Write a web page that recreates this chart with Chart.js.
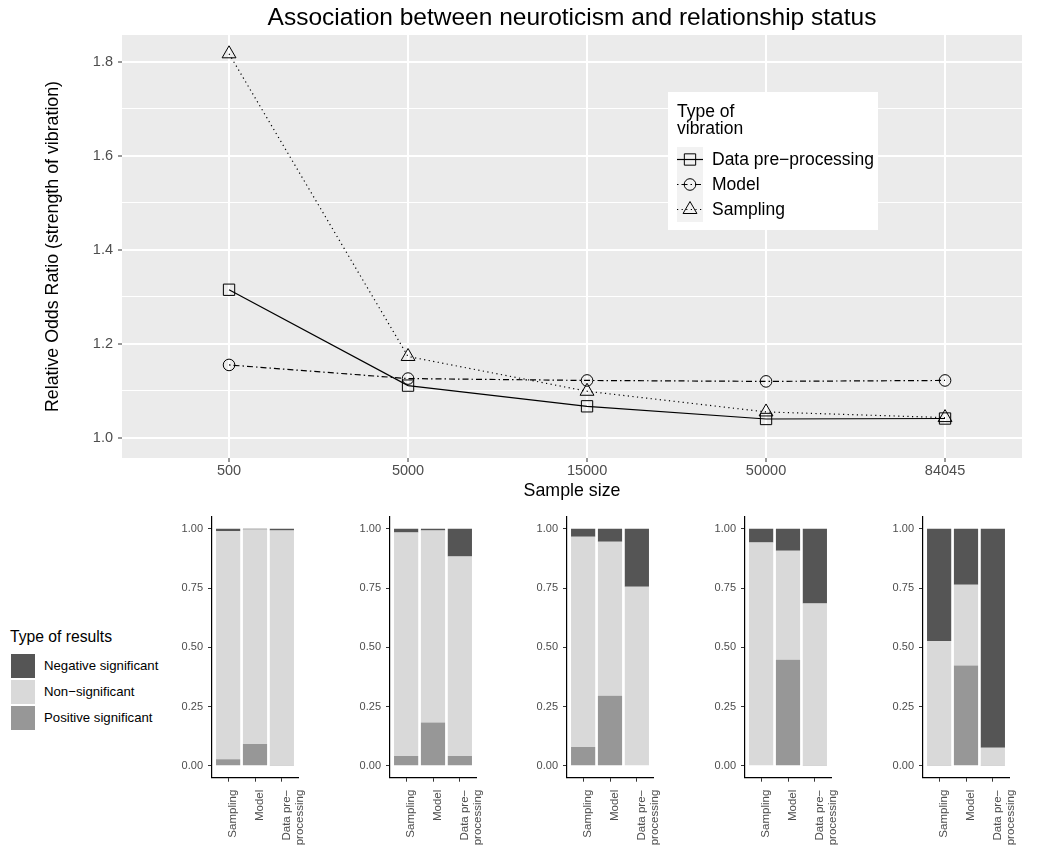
<!DOCTYPE html>
<html>
<head>
<meta charset="utf-8">
<script src="https://cdn.jsdelivr.net/npm/chart.js@4.4.0/dist/chart.umd.min.js"></script>
<style>
  body { margin: 0; background: #fff; font-family: "Liberation Sans", Arial, sans-serif; }
  #wrap { position: relative; width: 1045px; height: 845px; overflow: hidden; }
  canvas { position: absolute; }
  .lg-title { position: absolute; left: 10px; top: 628px; font-size: 15.7px; line-height: 18px; color: #000; white-space: nowrap; }
  .lg-key { position: absolute; left: 11px; width: 24px; height: 24px; }
  .lg-label { position: absolute; left: 44px; font-size: 13.2px; line-height: 24px; height: 24px; color: #000; white-space: nowrap; }
</style>
</head>
<body>
<div id="wrap">
  <canvas id="top-chart" width="1045" height="505" style="left:0;top:0"></canvas>
  <div id="bars"></div>
  <div id="results-legend"></div>
</div>
<script>
// Top panel data
const sampleSizes = ['500', '5000', '15000', '50000', '84045'];
const vibrationTypes = ['Data pre−processing', 'Model', 'Sampling'];
const dataPreprocessingOR = [1.315, 1.111, 1.067, 1.040, 1.041];
const modelOR = [1.155, 1.126, 1.122, 1.120, 1.122];
const samplingOR = [1.817, 1.173, 1.099, 1.055, 1.043];
const orTicks = [1.0, 1.1, 1.2, 1.3, 1.4, 1.5, 1.6, 1.7, 1.8];

// Bottom panels data: one row per sample size, columns = Sampling, Model, Data pre-processing
const barCategories = ['Sampling', 'Model', 'Data pre−processing'];
const resultTypes = ['Negative significant', 'Non−significant', 'Positive significant'];
const positiveShare = [
    [0.028, 0.092, 0.001],
    [0.042, 0.183, 0.042],
    [0.080, 0.296, 0.003],
    [0.000, 0.448, 0.002],
    [0.002, 0.423, 0.002]
];
const nonSigShare = [
    [0.962, 0.905, 0.992],
    [0.943, 0.810, 0.841],
    [0.887, 0.650, 0.753],
    [0.942, 0.460, 0.683],
    [0.525, 0.341, 0.074]
];
const negativeShare = [
    [0.010, 0.003, 0.007],
    [0.015, 0.007, 0.117],
    [0.033, 0.054, 0.244],
    [0.058, 0.092, 0.315],
    [0.473, 0.236, 0.924]
];
const shareTicks = [0, 0.25, 0.5, 0.75, 1];

const FONT = "'Liberation Sans', Arial, sans-serif";
Chart.defaults.font.family = FONT;
Chart.defaults.animation = false;

const resultColors = {
    'Negative significant': '#555555',
    'Non−significant': '#d9d9d9',
    'Positive significant': '#979797'
};

// Marker helper (same geometry as Chart.js point styles)
function drawMarker(ctx, style, x, y, r) {
    ctx.beginPath();
    if (style === 'rect') {
        const s = r * Math.SQRT1_2;
        ctx.rect(x - s, y - s, 2 * s, 2 * s);
    } else if (style === 'circle') {
        ctx.arc(x, y, r, 0, Math.PI * 2);
    } else {
        let a = 0;
        ctx.moveTo(x + Math.sin(a) * r, y - Math.cos(a) * r);
        a += Math.PI * 2 / 3;
        ctx.lineTo(x + Math.sin(a) * r, y - Math.cos(a) * r);
        a += Math.PI * 2 / 3;
        ctx.lineTo(x + Math.sin(a) * r, y - Math.cos(a) * r);
        ctx.closePath();
    }
    ctx.stroke();
}

// Gray panel background
const panelBackground = {
    id: 'panelBackground',
    beforeDraw(chart) {
        const { ctx, chartArea: a } = chart;
        ctx.save();
        ctx.fillStyle = '#ebebeb';
        ctx.fillRect(a.left, a.top, a.right - a.left, a.bottom - a.top);
        ctx.restore();
    }
};

// Plot title and inside legend
const titleAndLegend = {
    id: 'titleAndLegend',
    afterDraw(chart) {
        const { ctx, chartArea: a } = chart;
        ctx.save();
        ctx.fillStyle = '#000';
        ctx.font = '24.5px ' + FONT;
        ctx.textAlign = 'center';
        ctx.textBaseline = 'alphabetic';
        ctx.fillText('Association between neuroticism and relationship status', (a.left + a.right) / 2, 25);

        // legend box
        ctx.fillStyle = '#fff';
        ctx.fillRect(668, 92, 210, 138);
        ctx.fillStyle = '#000';
        ctx.textAlign = 'left';
        ctx.font = '17.5px ' + FONT;
        ctx.fillText('Type of', 677, 117);
        ctx.fillText('vibration', 677, 134);
        ctx.fillStyle = '#f2f2f2';
        ctx.fillRect(677, 147, 26, 75);

        chart.data.datasets.forEach((ds, i) => {
            const cy = 159.5 + i * 25;
            ctx.strokeStyle = '#000';
            ctx.lineWidth = ds.borderWidth;
            ctx.setLineDash(ds.borderDash || []);
            ctx.beginPath();
            ctx.moveTo(677, cy);
            ctx.lineTo(703, cy);
            ctx.stroke();
            ctx.setLineDash([]);
            ctx.lineWidth = 1;
            drawMarker(ctx, ds.pointStyle, 690, cy, ds.pointRadius);
            ctx.fillStyle = '#000';
            ctx.textBaseline = 'middle';
            ctx.fillText(ds.label, 712, cy + 1);
        });
        ctx.restore();
    }
};

function toPoints(values) {
    return values.map((v, i) => ({ x: i, y: v }));
}

new Chart(document.getElementById('top-chart'), {
    type: 'line',
    data: {
        datasets: [
            {
                label: vibrationTypes[0], data: toPoints(dataPreprocessingOR),
                borderColor: '#000', borderWidth: 1.2, borderDash: [],
                pointStyle: 'rect', pointRadius: 8
            },
            {
                label: vibrationTypes[1], data: toPoints(modelOR),
                borderColor: '#000', borderWidth: 1.2, borderDash: [1.5, 3, 6, 3],
                pointStyle: 'circle', pointRadius: 5.8
            },
            {
                label: vibrationTypes[2], data: toPoints(samplingOR),
                borderColor: '#000', borderWidth: 1.2, borderDash: [1.2, 3.4],
                pointStyle: 'triangle', pointRadius: 8
            }
        ].map(ds => Object.assign(ds, {
            pointBorderColor: '#000', pointBackgroundColor: 'rgba(0,0,0,0)',
            pointBorderWidth: 1, tension: 0, fill: false
        }))
    },
    options: {
        responsive: false,
        layout: { padding: { left: 0, right: 23, top: 35, bottom: 0 } },
        plugins: { legend: { display: false }, tooltip: { enabled: false } },
        scales: {
            x: {
                type: 'linear', min: -0.598, max: 4.43,
                afterBuildTicks: s => { s.ticks = sampleSizes.map((_, i) => ({ value: i })); },
                afterFit: s => { s.height = 47; },
                ticks: {
                    callback: v => sampleSizes[v],
                    color: '#4d4d4d', font: { size: 14.5 }, padding: 0, autoSkip: false, maxRotation: 0
                },
                grid: { color: '#fff', lineWidth: 2, tickColor: '#333', tickLength: 4, tickWidth: 1 },
                border: { display: false },
                title: { display: true, text: 'Sample size', color: '#000', font: { size: 17.8 }, padding: { top: 0, bottom: 3.3 } }
            },
            y: {
                min: 0.957, max: 1.857,
                afterBuildTicks: s => { s.ticks = orTicks.map(v => ({ value: v })); },
                afterFit: s => { s.width = 122; },
                ticks: {
                    callback: v => (Math.round(v * 10) % 2 === 0 ? v.toFixed(1) : ''),
                    color: '#4d4d4d', font: { size: 14.5 }, padding: 5
                },
                grid: {
                    color: '#fff',
                    lineWidth: c => (Math.round(c.tick.value * 10) % 2 === 0 ? 2 : 1),
                    tickColor: c => (Math.round(c.tick.value * 10) % 2 === 0 ? '#333' : 'rgba(0,0,0,0)'),
                    tickLength: 4, tickWidth: 1
                },
                border: { display: false },
                title: {
                    display: true, text: 'Relative Odds Ratio (strength of vibration)',
                    color: '#000', font: { size: 17.8 }, padding: { top: 42.3, bottom: 0 }
                }
            }
        }
    },
    plugins: [panelBackground, titleAndLegend]
});

// Bottom stacked bar panels
const barsHolder = document.getElementById('bars');
sampleSizes.forEach((size, k) => {
    const axisX = 212 + k * 177.7;
    const canvas = document.createElement('canvas');
    canvas.width = 161;
    canvas.height = 340;
    canvas.style.left = (axisX - 50) + 'px';
    canvas.style.top = '505px';
    barsHolder.appendChild(canvas);

    const series = [
        ['Positive significant', positiveShare[k]],
        ['Non−significant', nonSigShare[k]],
        ['Negative significant', negativeShare[k]]
    ];

    new Chart(canvas, {
        type: 'bar',
        data: {
            datasets: series.map(([name, vals]) => ({
                label: name,
                data: vals.map((v, i) => ({ x: i, y: v })),
                backgroundColor: resultColors[name],
                borderWidth: 0,
                barPercentage: 0.9,
                categoryPercentage: 1
            }))
        },
        options: {
            responsive: false,
            layout: { padding: { left: 0, right: 25, top: 12, bottom: 0 } },
            plugins: { legend: { display: false }, tooltip: { enabled: false } },
            scales: {
                x: {
                    type: 'linear', min: -0.6, max: 2.6, stacked: true, offset: false,
                    afterBuildTicks: s => { s.ticks = barCategories.map((_, i) => ({ value: i })); },
                    afterFit: s => { s.height = 340 - 12 - 260.7; },
                    ticks: {
                        callback: v => (barCategories[v] === 'Data pre−processing' ? ['Data pre−', 'processing'] : barCategories[v]),
                        color: '#4d4d4d', font: { size: 11.5, lineHeight: 1.15 },
                        minRotation: 90, maxRotation: 90, autoSkip: false, padding: 8, labelOffset: 5
                    },
                    grid: { offset: false, drawOnChartArea: false, tickColor: '#333', tickLength: 4, tickWidth: 1 },
                    border: { color: '#000', width: 1.2 }
                },
                y: {
                    min: -0.05, max: 1.05, stacked: true,
                    afterBuildTicks: s => { s.ticks = shareTicks.map(v => ({ value: v })); },
                    afterFit: s => { s.width = 50; },
                    ticks: { callback: v => v.toFixed(2), color: '#4d4d4d', font: { size: 11 }, padding: 5 },
                    grid: { drawOnChartArea: false, tickColor: '#333', tickLength: 4, tickWidth: 1 },
                    border: { color: '#000', width: 1.2 }
                }
            }
        }
    });
});

// Legend for result types
const legendHolder = document.getElementById('results-legend');
legendHolder.innerHTML = '<div class="lg-title">Type of results</div>' +
    resultTypes.map((name, i) => {
        const top = 654 + i * 26;
        return '<div class="lg-key" style="top:' + top + 'px;background:' + resultColors[name] + '"></div>' +
            '<div class="lg-label" style="top:' + top + 'px">' + name + '</div>';
    }).join('');
</script>
</body>
</html>
